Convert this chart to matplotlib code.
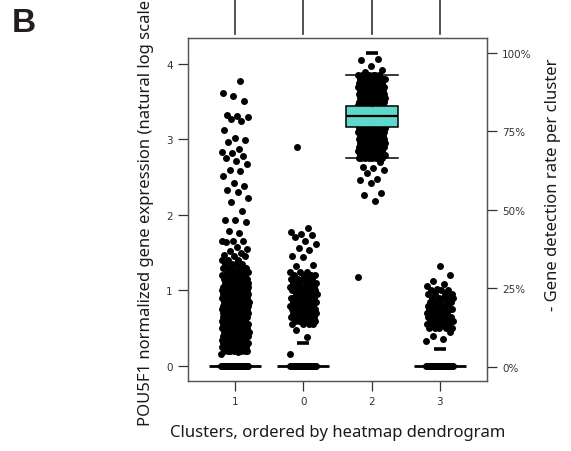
import numpy as np
import matplotlib
matplotlib.use("Agg")
import matplotlib.pyplot as plt
import matplotlib.transforms as mtransforms

# ---------------- data ----------------
clusters = ["1", "0", "2", "3"]

# individually readable cells (expression, natural log scale)
expr_cluster1 = [
    3.77, 3.61, 3.57, 3.51, 3.32, 3.31, 3.30, 3.27, 3.24, 3.12, 3.02, 2.99, 2.96,
    2.87, 2.84, 2.82, 2.78, 2.76, 2.71, 2.67, 2.59, 2.58, 2.51, 2.43, 2.38, 2.33,
    2.30, 2.22, 2.17, 2.05, 1.94, 1.93, 1.91, 1.79, 1.76, 1.66, 1.66, 1.65, 1.64,
    1.58, 1.55, 1.52, 1.50, 1.47, 0.18, 0.16,
]
expr_cluster0 = [
    2.90, 1.83, 1.77, 1.75, 1.73, 1.71, 1.65, 1.62, 1.56, 1.54, 1.46, 1.44, 1.34,
    1.32, 0.47, 0.39, 0.16,
]
expr_cluster2 = [
    4.07, 4.05, 3.97, 3.92, 3.90, 2.70, 2.64, 2.62, 2.59, 2.55, 2.48, 2.46, 2.42,
    2.29, 2.26, 2.19, 1.18,
]
expr_cluster3 = [
    1.32, 1.21, 1.13, 1.09, 1.06, 1.02, 0.45, 0.40, 0.36, 0.33,
]

# densely packed part of each cloud: expression level -> number of cells
dense_levels_c1 = [0.20, 0.25, 0.30, 0.35, 0.40, 0.45, 0.50, 0.55, 0.60, 0.65, 0.70,
                   0.75, 0.80, 0.85, 0.90, 0.95, 1.00, 1.05, 1.10, 1.15, 1.20, 1.25,
                   1.30, 1.35, 1.40, 1.45]
dense_counts_c1 = [7, 10, 11, 11, 11, 11, 11, 11, 11, 11, 11, 11, 11, 11, 11, 11, 11,
                   10, 9, 8, 7, 6, 5, 4, 3, 2]
dense_levels_c0 = [0.55, 0.60, 0.65, 0.70, 0.75, 0.80, 0.85, 0.90, 0.95, 1.00, 1.05,
                   1.10, 1.15, 1.20, 1.25]
dense_counts_c0 = [4, 5, 6, 7, 7, 7, 7, 7, 7, 7, 6, 6, 5, 4, 3]
dense_levels_c2 = [2.75, 2.80, 2.85, 2.90, 2.95, 3.00, 3.05, 3.10, 3.15, 3.20, 3.25,
                   3.30, 3.35, 3.40, 3.45, 3.50, 3.55, 3.60, 3.65, 3.70, 3.75, 3.80,
                   3.85]
dense_counts_c2 = [8, 10, 11, 12, 12, 12, 12, 12, 12, 12, 12, 12, 12, 12, 12, 12, 12,
                   12, 12, 11, 10, 9, 6]
dense_levels_c3 = [0.50, 0.55, 0.60, 0.65, 0.70, 0.75, 0.80, 0.85, 0.90, 0.95, 1.00]
dense_counts_c3 = [5, 7, 7, 7, 7, 7, 6, 5, 5, 4, 3]

zero_counts = [30, 30, 0, 30]             # cells with zero expression
detection_rate = [15.0, 7.5, 100.0, 5.5]  # percent, right axis
box_cluster2 = dict(med=3.31, q1=3.16, q3=3.44, whislo=2.76, whishi=3.85)
yticks_left = [0, 1, 2, 3, 4]
yticks_right = [0, 25, 50, 75, 100]
yticklabels_right = ["0%", "25%", "50%", "75%", "100%"]

# ---------------- figure ----------------
W, H = 571, 452
fig = plt.figure(figsize=(W / 100, H / 100), dpi=100)
ax = fig.add_axes([188 / W, 1 - 382 / H, (487 - 188) / W, (382 - 39) / H])

single = [expr_cluster1, expr_cluster0, expr_cluster2, expr_cluster3]
dense = [(dense_levels_c1, dense_counts_c1), (dense_levels_c0, dense_counts_c0),
         (dense_levels_c2, dense_counts_c2), (dense_levels_c3, dense_counts_c3)]
jit = 0.2
golden = 0.6180339887
for pos, (vals, (lv, ct), nz) in enumerate(zip(single, dense, zero_counts)):
    v = np.sort(np.concatenate([np.asarray(vals, float), np.repeat(lv, ct)]))
    idx = np.arange(len(v))
    offs = ((idx * golden) % 1.0 - 0.5) * 2 * jit
    ax.scatter(pos + offs, v, s=25, color="black", linewidths=0, zorder=2)
    if nz > 0:
        z = np.zeros(nz)
        zi = np.arange(nz)
        zoffs = ((zi * golden) % 1.0 - 0.5) * 2 * jit
        ax.plot([pos - 0.38, pos + 0.38], [0, 0], color="black", lw=2.0,
                solid_capstyle="butt", zorder=2)
        ax.scatter(pos + zoffs, z, s=25, color="black", linewidths=0, zorder=2)

stats = dict(box_cluster2)
stats["fliers"] = []
ax.bxp([stats], positions=[2], widths=0.76, patch_artist=True,
       showfliers=False, capwidths=0.76, zorder=3,
       boxprops=dict(facecolor="#5ED8C8", edgecolor="black", linewidth=1.1),
       medianprops=dict(color="black", linewidth=1.6),
       whiskerprops=dict(color="black", linewidth=1.0),
       capprops=dict(color="black", linewidth=1.1))

ax.set_xlim(-0.69, 3.69)
ax.set_ylim(-0.199, 4.344)
ax.set_xticks(range(len(clusters)))
ax.set_xticklabels(clusters)
ax.set_yticks(yticks_left)

ax2 = ax.twinx()
ax2.set_ylim(-4.56, 104.8)
ax2.plot(range(len(clusters)), detection_rate, ls="none", marker="_",
         ms=9, mew=2.6, color="black", zorder=4)
ax2.set_yticks(yticks_right)
ax2.set_yticklabels(yticklabels_right)

for a in (ax, ax2):
    for sp in a.spines.values():
        sp.set_color("#555555")
        sp.set_linewidth(0.9)
    a.tick_params(direction="out", length=7, width=0.9, color="#333333",
                  labelsize=7.5, labelcolor="#333333", pad=4)

# dendrogram stubs above the panel
trans = mtransforms.blended_transform_factory(ax.transData, ax.transAxes)
for pos in range(len(clusters)):
    ax.plot([pos, pos], [1.012, 1.2], transform=trans, clip_on=False,
            color="#333333", lw=1.2)

lab_font = dict(family="Noto Sans", fontsize=12, color="#1a1a1a")
fig.text(337.5 / W, 1 - 433 / H, "Clusters, ordered by heatmap dendrogram",
         ha="center", va="center", **lab_font)
fig.text(146 / W, 1 - 210.5 / H,
         "POU5F1 normalized gene expression (natural log scale)",
         ha="center", va="center", rotation=90, **lab_font)
fig.text(553 / W, 1 - 185 / H, "- Gene detection rate per cluster",
         ha="center", va="center", rotation=90, **lab_font)
fig.text(12 / W, 1 - 24 / H, "B", ha="left", va="center",
         family="Liberation Sans", fontweight="bold", fontsize=24, color="#231f20")

fig.savefig("out.png", dpi=100)
